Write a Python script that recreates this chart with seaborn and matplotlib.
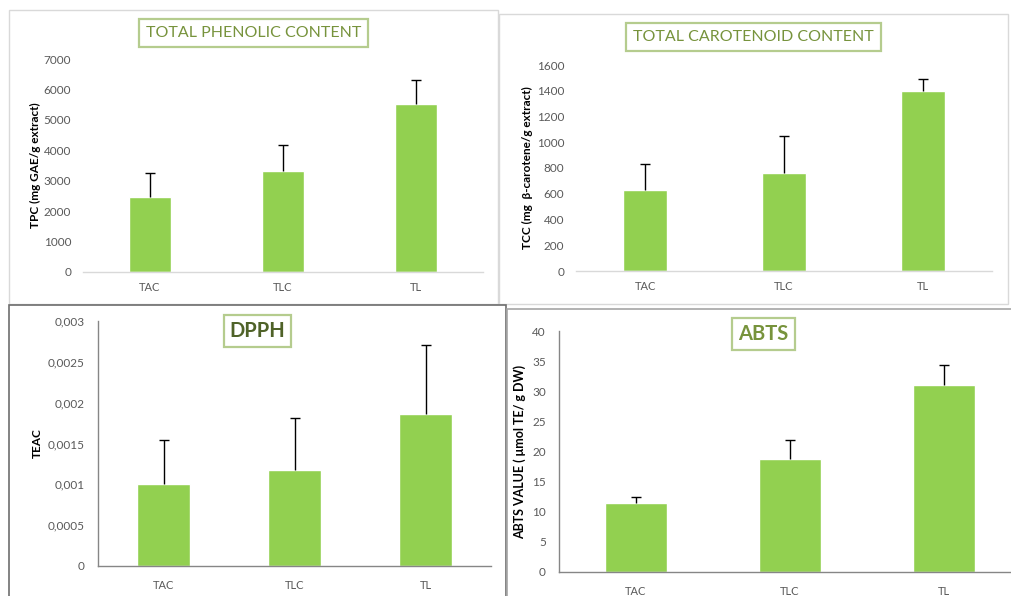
import matplotlib
matplotlib.use("Agg")
import matplotlib.pyplot as plt
from matplotlib.patches import Rectangle
from matplotlib.ticker import FixedLocator, FuncFormatter
import seaborn as sns
import pandas as pd

sns.set_theme(style="white")
plt.rcParams["font.family"] = ["Lato", "DejaVu Sans"]

# ---- data -------------------------------------------------------------
groups = ["TAC", "TLC", "TL"]

tpc_mean = [2465, 3308, 5521]
tpc_sd = [778, 866, 789]

tcc_mean = [633, 758, 1400]
tcc_sd = [197, 287, 89]

dpph_mean = [0.00101, 0.00118, 0.00186]
dpph_sd = [0.00053, 0.00063, 0.00085]

abts_mean = [11.5, 18.8, 31.0]
abts_sd = [1.0, 3.1, 3.3]

# ---- layout helpers ----------------------------------------------------
W, H = 1011, 596
fig = plt.figure(figsize=(W / 100, H / 100), dpi=100)
fig.patch.set_facecolor("white")

BAR = "#92D050"
TICK = "#595959"
TITLE_GREEN = "#77933C"
DARK_GREEN = "#4F6228"


def px_axes(x0, y0, x1, y1):
    return fig.add_axes([x0 / W, (H - y1) / H, (x1 - x0) / W, (y1 - y0) / H])


def frame(x0, y0, x1, y1, color, lw):
    fig.patches.append(Rectangle((x0 / W, (H - y1) / H), (x1 - x0) / W, (y1 - y0) / H,
                                 transform=fig.transFigure, fill=False,
                                 edgecolor=color, lw=lw, zorder=-1))


def title_box(cx, cy, text, color, size, weight, pad):
    fig.text(cx / W, (H - cy) / H, text, ha="center", va="center", color=color,
             fontsize=size, fontweight=weight, zorder=5,
             bbox=dict(boxstyle=f"square,pad={pad}", facecolor="white",
                       edgecolor="#B5CC8E", lw=1.6))


def bars(ax, means, sds, width):
    df = pd.DataFrame({"group": groups, "value": means})
    sns.barplot(data=df, x="group", y="value", color=BAR, saturation=1,
                width=width, errorbar=None, ax=ax, zorder=2)
    # upper-only error bars: hide the cap sitting on the bar top
    _, caps, _ = ax.errorbar(range(len(groups)), means, yerr=[[0] * len(sds), sds],
                             fmt="none", ecolor="black", elinewidth=1.0,
                             capsize=3.5, capthick=1.0, zorder=3)
    caps[0].set_visible(False)
    ax.set_xlim(-0.5, 2.5)
    ax.set_xlabel("")
    ax.set_facecolor("none")
    ax.tick_params(axis="x", colors=TICK, labelsize=8, length=0, pad=7)
    ax.tick_params(axis="y", colors=TICK, labelsize=8.5)


def plain_axes(ax, top, step):
    ax.set_ylim(0, top)
    ax.set_yticks([v * step for v in range(int(round(top / step)) + 1)])
    for s in ("left", "top", "right"):
        ax.spines[s].set_visible(False)
    ax.spines["bottom"].set_color("#D9D9D9")
    ax.spines["bottom"].set_linewidth(1.0)
    ax.tick_params(axis="y", length=0, pad=8.5)


def boxed_axes(ax, top, step, fmt=None):
    ax.set_ylim(0, top)
    ax.set_yticks([v * step for v in range(int(round(top / step)) + 1)])
    for s in ("top", "right"):
        ax.spines[s].set_visible(False)
    for s in ("left", "bottom"):
        ax.spines[s].set_color("#868686")
        ax.spines[s].set_linewidth(1.0)
    ax.tick_params(axis="y", length=3, width=1, color="#868686", pad=6.5, direction="out")
    ax.xaxis.set_minor_locator(FixedLocator([-0.5, 0.5, 1.5, 2.5]))
    ax.tick_params(axis="x", which="minor", length=4, width=1, color="#868686", direction="out")
    ax.tick_params(axis="x", pad=10)
    if fmt is not None:
        ax.yaxis.set_major_formatter(FuncFormatter(fmt))


# ---- panel frames ------------------------------------------------------
frame(9, 10, 498, 304, "#D9D9D9", 1.0)
frame(499, 14, 1008, 304, "#D9D9D9", 1.0)
frame(9, 305, 506, 640, "#6E6E6E", 1.2)
frame(507, 309, 1040, 640, "#A6A6A6", 1.2)

# ---- total phenolic content ------------------------------------------
ax1 = px_axes(83, 59, 483, 272)
bars(ax1, tpc_mean, tpc_sd, 0.315)
plain_axes(ax1, 7000, 1000)
ax1.set_ylabel("TPC (mg GAE/g extract)", fontsize=8.5, fontweight="bold", color="black")
ax1.yaxis.set_label_coords((41 - 83) / 400, 0.5)

# ---- total carotenoid content ----------------------------------------
ax2 = px_axes(576, 65, 992, 271)
bars(ax2, tcc_mean, tcc_sd, 0.317)
plain_axes(ax2, 1600, 200)
ax2.set_ylabel("TCC (mg  β-carotene/g extract)", fontsize=8.5, fontweight="bold", color="black")
ax2.yaxis.set_label_coords((533 - 576) / 416, 0.5)

# ---- DPPH --------------------------------------------------------------
ax3 = px_axes(98, 321, 491, 566)
bars(ax3, dpph_mean, dpph_sd, 0.40)
boxed_axes(ax3, 0.003, 0.0005,
           fmt=lambda v, p: "0" if v == 0 else ("%g" % v).replace(".", ","))
ax3.set_ylabel("TEAC", fontsize=8.5, fontweight="bold", color="black")
ax3.yaxis.set_label_coords((43 - 98) / 393, 0.5)

# ---- ABTS --------------------------------------------------------------
ax4 = px_axes(559, 331, 1021, 572)
bars(ax4, abts_mean, abts_sd, 0.40)
boxed_axes(ax4, 40, 5)
ax4.set_ylabel("ABTS VALUE ( μmol TE/ g DW)", fontsize=9, fontweight="bold", color="black")
ax4.yaxis.set_label_coords((526 - 559) / 462, 0.5)

# ---- titles ------------------------------------------------------------
title_box(253.5, 33, "TOTAL PHENOLIC CONTENT", TITLE_GREEN, 11.5, "normal", 0.42)
title_box(753.5, 37, "TOTAL CAROTENOID CONTENT", TITLE_GREEN, 11.5, "normal", 0.42)
title_box(257.5, 331, "DPPH", DARK_GREEN, 14.5, "bold", 0.3)
title_box(763.5, 334, "ABTS", TITLE_GREEN, 14.5, "bold", 0.3)

fig.savefig("out.png", dpi=100, facecolor="white")
